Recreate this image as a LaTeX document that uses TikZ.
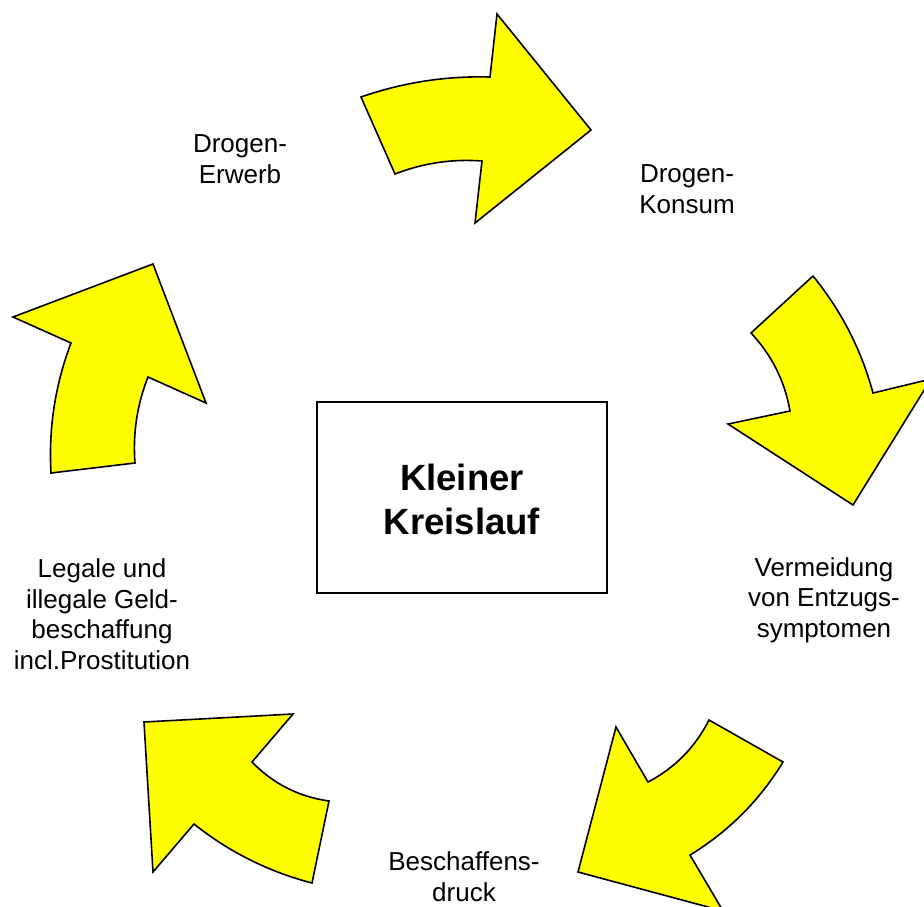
\documentclass[tikz,border=0pt]{standalone}
\usepackage{fontspec}
\setmainfont{Liberation Sans}
\usetikzlibrary{calc}
\definecolor{arrowyellow}{RGB}{255,255,0}
\begin{document}
\begin{tikzpicture}[x=1pt,y=-1pt,
  blockarrow/.style={draw=black,fill=arrowyellow,line width=1.6pt,line join=miter},
  lbl/.style={inner sep=0pt,align=center,anchor=base,font=\fontsize{26}{30.5}\selectfont},
  titlebox/.style={draw=black,line width=1.6pt}]
\useasboundingbox (0,0) rectangle (924,906);
\clip (0,0) rectangle (924,906);
% arrow 1 (top)
\draw[blockarrow] (361,97) .. controls ($(361,97)!2/3!(423.7,75.2)$) and ($(490,77)!2/3!(423.7,75.2)$) .. (490,77)
  -- (497,14) -- (591,130) -- (475,223) -- (482,161)
  .. controls ($(482,161)!2/3!(437,157.6)$) and ($(395,174)!2/3!(437,157.6)$) .. (395,174) -- cycle;
% arrow 2 (right)
\draw[blockarrow] (813,276) .. controls ($(813,276)!2/3!(855.5,328.2)$) and ($(873,393)!2/3!(855.5,328.2)$) .. (873,393)
  -- (931,379) -- (853,505) -- (728,424) -- (790,411)
  .. controls ($(790,411)!2/3!(782.2,366.2)$) and ($(751,333)!2/3!(782.2,366.2)$) .. (751,333) -- cycle;
% arrow 3 (bottom right)
\draw[blockarrow] (648,782) .. controls ($(648,782)!2/3!(688.3,760.9)$) and ($(709,720)!2/3!(688.3,760.9)$) .. (709,720)
  -- (783,762)
  .. controls ($(783,762)!2/3!(747.8,819.8)$) and ($(690,855)!2/3!(747.8,819.8)$) .. (690,855)
  -- (723,911) -- (578,872) -- (616,727) -- cycle;
% arrow 4 (bottom left)
\draw[blockarrow] (252,762) .. controls ($(252,762)!2/3!(283.8,794.7)$) and ($(329,801)!2/3!(283.8,794.7)$) .. (329,801)
  -- (312,883)
  .. controls ($(312,883)!2/3!(246.7,866)$) and ($(194,824)!2/3!(246.7,866)$) .. (194,824)
  -- (153,872) -- (144,722) -- (293,714) -- cycle;
% arrow 5 (left)
\draw[blockarrow] (71,343) .. controls ($(71,343)!2/3!(47.2,405.9)$) and ($(51,473)!2/3!(47.2,405.9)$) .. (51,473)
  -- (135,463)
  .. controls ($(135,463)!2/3!(131.6,418.5)$) and ($(148,377)!2/3!(131.6,418.5)$) .. (148,377)
  -- (206,403) -- (153,264) -- (13,317) -- cycle;
% centre box
\draw[titlebox] (317,402) rectangle (607,593);
\node[lbl,font=\fontsize{36.5}{44}\selectfont\bfseries] (title) at (462,534) {Kleiner\\Kreislauf};
% labels
\node[lbl] (erwerb) at (240,183) {Drogen-\\Erwerb};
\node[lbl] (konsum) at (687,213) {Drogen-\\Konsum};
\node[lbl] (vermeidung) at (824,637) {Vermeidung\\von Entzugs-\\symptomen};
\node[lbl] (druck) at (464,901) {Beschaffens-\\druck};
\node[lbl] (geld) at (102,669) {Legale und\\illegale Geld-\\beschaffung\\incl.Prostitution};
\end{tikzpicture}
\end{document}
